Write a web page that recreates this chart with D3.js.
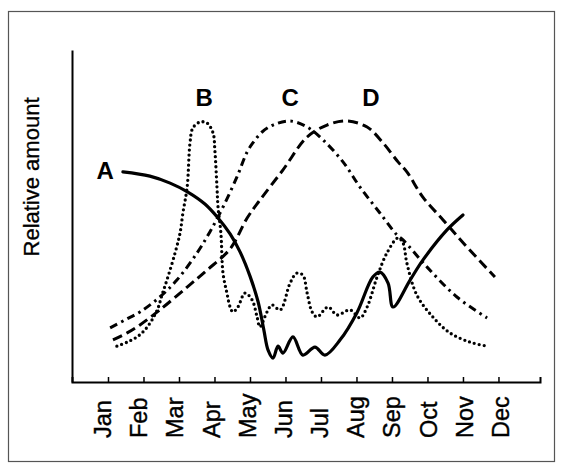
<!DOCTYPE html>
<html><head><meta charset="utf-8">
<script src="https://cdn.jsdelivr.net/npm/d3@7"></script>
<style>html,body{margin:0;padding:0;background:#fff;}svg{display:block;}</style>
</head><body>
<svg id="chart" width="561" height="464"></svg>
<script>
// Month tick labels
const months = ["Jan","Feb","Mar","Apr","May","Jun","Jul","Aug","Sep","Oct","Nov","Dec"];
const seriesNames = ["A","B","C","D"];
// Each series: month position (0 = Jan) and relative amount (0-100)
const monthA = [0.42,1.18,1.75,2.25,2.73,3.10,3.44,3.72,4.00,4.23,4.39,4.51,4.65,4.79,4.93,5.21,5.49,5.83,6.11,6.54,7.01,7.46,7.66,7.89,8.03,8.51,8.87,9.55,10.0];
const valueA = [63.3,62.0,59.9,57.2,53.6,49.4,44.6,39.2,31.9,24.1,15.7,9.6,7.2,10.8,8.7,13.6,8.1,10.5,8.1,12.7,20.8,31.6,33.1,29.8,22.6,30.7,36.7,45.8,50.3];
const monthB = [0.25,0.54,0.82,1.04,1.24,1.41,1.52,1.66,1.89,2.03,2.11,2.23,2.31,2.39,2.59,2.79,2.96,3.01,3.07,3.10,3.18,3.24,3.35,3.44,3.52,3.66,3.86,4.06,4.20,4.28,4.48,4.62,4.85,5.13,5.32,5.49,5.61,5.75,5.89,6.20,6.45,6.82,7.10,7.30,7.58,7.86,8.17,8.31,8.42,8.70,9.15,9.63,10.20,10.68];
const valueB = [10.8,12.0,13.6,15.7,18.7,22.3,26.2,30.7,38.9,44.9,50.9,58.7,72.0,76.5,78.3,78.0,75.0,69.9,58.7,52.7,44.9,32.8,26.8,22.6,21.1,22.6,26.8,24.7,19.6,16.6,21.1,23.2,21.7,29.8,32.8,32.2,26.8,21.1,19.6,22.6,20.2,21.7,19.3,22.6,31.6,38.9,43.4,41.9,35.8,26.2,19.6,14.8,12.0,10.8];
const monthC = [0.06,0.48,0.90,1.46,1.94,2.51,2.87,3.24,3.63,3.92,4.08,4.34,4.65,5.13,5.61,6.06,6.62,7.10,7.66,8.14,8.31,8.99,9.83,10.68];
const valueC = [16.3,18.7,21.1,25.6,30.7,38.9,45.2,52.7,61.7,69.3,72.0,75.3,77.4,78.6,76.8,72.9,66.3,58.7,50.9,44.3,42.8,34.6,25.6,19.3];
const monthD = [0.14,0.54,0.90,1.46,2.23,2.79,3.44,3.92,4.28,4.93,5.61,6.17,6.73,7.30,7.75,8.17,8.42,8.87,9.44,10.06,10.90];
const valueD = [12.7,14.8,17.2,21.7,28.6,33.7,40.1,49.4,54.8,63.9,73.8,77.4,78.6,76.8,72.0,66.3,63.3,55.7,48.8,41.3,31.6];

const svg = d3.select("#chart");
const font = "'Liberation Sans', Arial, Helvetica, sans-serif";

// frame
svg.append("rect").attr("x",8.5).attr("y",11.5).attr("width",546).attr("height",450)
  .attr("fill","none").attr("stroke","#555").attr("stroke-width",1.2);

const x = d3.scaleLinear().domain([-1.014, 12.17]).range([72, 540]);
const y = d3.scaleLinear().domain([0, 100]).range([382, 50]);
const labelX = d3.scaleLinear().domain([0, 11]).range([102.5, 500.5]);

// axes
const xAxis = d3.axisBottom(x).tickValues(d3.range(months.length)).tickSize(-5).tickFormat("");
const gx = svg.append("g").attr("transform","translate(0,382)").call(xAxis);
gx.select(".domain").attr("stroke","#000").attr("stroke-width",2);
gx.selectAll(".tick line").attr("stroke","#000").attr("stroke-width",1.5);

const yAxis = d3.axisLeft(y).tickValues([]).tickSizeOuter(0);
const gy = svg.append("g").attr("transform","translate(72,0)").call(yAxis);
gy.select(".domain").attr("stroke","#000").attr("stroke-width",2);

// month labels
svg.append("g").selectAll("text").data(months).join("text")
  .attr("transform",(d,i)=>`translate(${labelX(i)},438) rotate(-90)`)
  .attr("dy","0.36em")
  .attr("text-anchor","start")
  .attr("font-family",font).attr("font-size",23.5).attr("fill","#000")
  .attr("stroke","#000").attr("stroke-width",0.4)
  .text(d=>d);

// y label
svg.append("text")
  .attr("transform","translate(31,177) rotate(-90)")
  .attr("dy","0.36em").attr("text-anchor","middle")
  .attr("font-family",font).attr("font-size",22).attr("fill","#000")
  .attr("stroke","#000").attr("stroke-width",0.3)
  .text("Relative amount");

const line = d3.line().x(d=>x(d[0])).y(d=>y(d[1])).curve(d3.curveCatmullRom.alpha(0.5));
const zip = (a,b)=>a.map((v,i)=>[v,b[i]]);

const styles = {
  A:{dash:null, cap:"round", w:3.2},
  B:{dash:"0,5", cap:"round", w:3.3},
  C:{dash:"8,4.5,2.5,4.5", cap:"butt", w:3},
  D:{dash:"10,5", cap:"butt", w:3}
};
const data = {A:zip(monthA,valueA), B:zip(monthB,valueB), C:zip(monthC,valueC), D:zip(monthD,valueD)};

seriesNames.forEach(n=>{
  const p = svg.append("path").datum(data[n]).attr("d",line)
    .attr("fill","none").attr("stroke","#000").attr("stroke-width",styles[n].w)
    .attr("stroke-linecap",styles[n].cap).attr("stroke-linejoin","round");
  if (styles[n].dash) p.attr("stroke-dasharray",styles[n].dash);
});

// series letters
const lbl = (t,px,py,anchor)=>svg.append("text").attr("x",px).attr("y",py)
  .attr("text-anchor",anchor).attr("font-family",font).attr("font-weight","bold")
  .attr("font-size",24).attr("fill","#000").text(t);
const a0 = data.A[0];
lbl("A", x(a0[0]) - 9, y(a0[1]) + 7, "end");
lbl("B", x(2.71), y(83.1), "middle");
lbl("C", x(5.13), y(83.1), "middle");
lbl("D", x(7.41), y(83.1), "middle");
</script>
</body></html>
